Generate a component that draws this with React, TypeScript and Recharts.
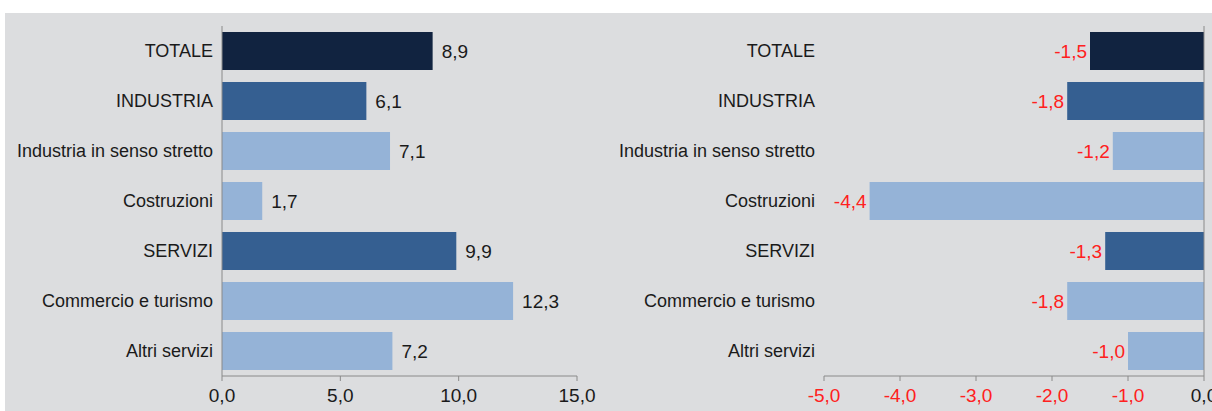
import React from 'react';
import { BarChart, Bar, XAxis, YAxis, Cell, LabelList, ReferenceLine } from 'recharts';

const categories = [
  'TOTALE',
  'INDUSTRIA',
  'Industria in senso stretto',
  'Costruzioni',
  'SERVIZI',
  'Commercio e turismo',
  'Altri servizi',
];
const leftValues = [8.9, 6.1, 7.1, 1.7, 9.9, 12.3, 7.2];
const rightValues = [-1.5, -1.8, -1.2, -4.4, -1.3, -1.8, -1.0];
const levels = ['total', 'macro', 'sub', 'sub', 'macro', 'sub', 'sub'];
const leftTicks = [0, 5, 10, 15];
const rightTicks = [-5, -4, -3, -2, -1, 0];

const colorByLevel: Record<string, string> = {
  total: '#112340',
  macro: '#355f91',
  sub: '#95b3d7',
};

const leftData = categories.map((c, i) => ({ name: c, value: leftValues[i], level: levels[i] }));
const rightData = categories.map((c, i) => ({ name: c, value: rightValues[i], level: levels[i] }));

const fmt = (v: number) => v.toFixed(1).replace('.', ',');
const FONT = '"Liberation Sans", Arial, sans-serif';

const XTick = (props: any) => {
  const { x, y, payload } = props;
  const v = payload.value as number;
  return (
    <text x={x} y={y} dy="0.71em" textAnchor="middle" fontFamily={FONT} fontSize={19} fill={v < 0 ? '#ff2020' : '#1a1a1a'}>
      {fmt(v)}
    </text>
  );
};

const YTick = (props: any) => {
  const { x, y, payload } = props;
  return (
    <text x={x} y={y} dy="0.355em" textAnchor="end" fontFamily={FONT} fontSize={18} fill="#1a1a1a">
      {payload.value}
    </text>
  );
};

const NegLabel = (props: any) => {
  const { x, y, width, height, value } = props;
  const leftEnd = Math.min(Number(x), Number(x) + Number(width));
  return (
    <text x={leftEnd - 3} y={Number(y) + Number(height) / 2} dy="0.355em" textAnchor="end" fontFamily={FONT} fontSize={19} fill="#ff2020">
      {fmt(Number(value))}
    </text>
  );
};

export default function App() {
  return (
    <div style={{ position: 'absolute', left: 0, top: 0, width: 1212, height: 411, background: '#ffffff', overflow: 'hidden' }}>
      <div style={{ position: 'absolute', left: 5, top: 13, width: 1207, height: 398, background: '#dcdddf' }} />
      <div style={{ position: 'absolute', left: 0, top: 0 }}>
        <BarChart width={600} height={411} data={leftData} layout="vertical" margin={{ top: 26, right: 23, bottom: 0, left: 0 }}>
          <XAxis
            type="number"
            dataKey="value"
            domain={[0, 15]}
            ticks={leftTicks}
            height={35}
            tickSize={5}
            tickMargin={8}
            stroke="#8a8a8a"
            tick={<XTick />}
            interval={0}
          />
          <YAxis
            type="category"
            dataKey="name"
            width={222}
            tickLine={false}
            tickSize={5}
            tickMargin={4}
            stroke="#8a8a8a"
            tick={<YTick />}
            interval={0}
          />
          <Bar dataKey="value" barSize={38} isAnimationActive={false}>
            {leftData.map((d, i) => (
              <Cell key={i} fill={colorByLevel[d.level]} />
            ))}
            <LabelList
              dataKey="value"
              position="right"
              offset={9}
              formatter={(v: any) => fmt(Number(v))}
              style={{ fontFamily: FONT, fontSize: 19, fill: '#1a1a1a' }}
            />
          </Bar>
        </BarChart>
      </div>
      <div style={{ position: 'absolute', left: 606, top: 0 }}>
        <BarChart width={606} height={411} data={rightData} layout="vertical" margin={{ top: 26, right: 8, bottom: 0, left: 0 }}>
          <XAxis
            type="number"
            dataKey="value"
            domain={[-5, 0]}
            ticks={rightTicks}
            height={35}
            tickSize={5}
            tickMargin={8}
            stroke="#8a8a8a"
            tick={<XTick />}
            interval={0}
          />
          <YAxis
            type="category"
            dataKey="name"
            width={218}
            axisLine={false}
            tickLine={false}
            tickSize={5}
            tickMargin={4}
            tick={<YTick />}
            interval={0}
          />
          <Bar dataKey="value" barSize={38} isAnimationActive={false}>
            {rightData.map((d, i) => (
              <Cell key={i} fill={colorByLevel[d.level]} />
            ))}
            <LabelList dataKey="value" content={<NegLabel />} />
          </Bar>
          <ReferenceLine x={0} stroke="#8a8a8a" ifOverflow="visible" />
        </BarChart>
      </div>
    </div>
  );
}
